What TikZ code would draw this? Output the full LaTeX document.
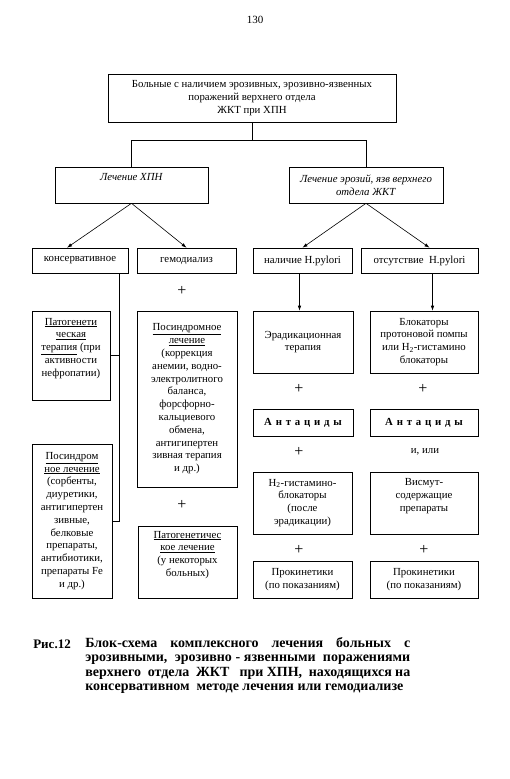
\documentclass[tikz,border=0pt]{standalone}
\usepackage{fontspec}
\setmainfont{Liberation Serif}
\newfontfamily\spaced[LetterSpace=35]{Liberation Serif}
\usetikzlibrary{arrows.meta}
\usetikzlibrary{positioning}
\tikzset{box/.style={draw, align=center, inner sep=1pt,
  font=\fontsize{10.8}{12.8}\selectfont},
  plus/.style={inner sep=0pt, font=\fontsize{16}{16}\selectfont},
  capt/.style={inner sep=0pt, align=left, font=\fontsize{14}{14.6}\selectfont\bfseries}}

\begin{document}
\begin{tikzpicture}[x=1pt, y=-1pt, line width=0.6pt, >={Latex[length=5pt,width=3.5pt]}]
      \useasboundingbox (0,0) rectangle (510,779);
      \node [inner sep=0pt, font=\fontsize{11}{13}\selectfont] (page) at (255,20) {130};

      \node [box, minimum width=288, minimum height=48] (top) at (252,98)
        {Больные с наличием эрозивных, эрозивно-язвенных\\ поражений верхнего отдела\\ ЖКТ при ХПН};
      \node [box, minimum width=153, minimum height=36] (lechHPN) at (131.5,185)
        {\textit{Лечение ХПН}\\ \strut};
      \node [box, minimum width=154, minimum height=36] (lechEroz) at (366,185)
        {\textit{Лечение эрозий, язв верхнего}\\ \textit{отдела ЖКТ}};

      \node [box, minimum width=96, minimum height=25] (kons) at (80,260.5) {консервативное};
      \node [box, minimum width=99, minimum height=25] (gemo) at (186.5,260.5) {гемодиализ};
      \node [box, minimum width=99, minimum height=25] (nal) at (302.5,260.5) {наличие H.pylori};
      \node [box, minimum width=117, minimum height=25] (ots) at (419.5,260.5) {отсутствие\ \ H.pylori};

      \node [box, minimum width=78, minimum height=89] (pat1) at (71,355.5)
        {\underline{Патогенети}\\ \underline{ческая}\\ \underline{терапия} (при\\ активности\\ нефропатии)\\ \strut};
      \node [box, minimum width=80, minimum height=154] (sind1) at (72,521)
        {\underline{Посиндром}\\ \underline{ное лечение}\\ (сорбенты,\\ диуретики,\\ антигипертен\\ зивные,\\
         белковые\\ препараты,\\ антибиотики,\\ препараты Fe\\ и др.)};

      \node [plus] (plus1) at (182,291) {+};
      \node [box, minimum width=100, minimum height=176] (sind2) at (187,399)
        {\underline{Посиндромное}\\ \underline{лечение}\\ (коррекция\\ анемии, водно-\\ электролитного\\ баланса,\\
         форсфорно-\\ кальциевого\\ обмена,\\ антигипертен\\ зивная терапия\\ и др.)};
      \node [plus] (plus2) at (182,505) {+};
      \node [box, minimum width=99, minimum height=72] (pat2) at (187.5,562)
        {\underline{Патогенетичес}\\ \underline{кое лечение}\\ (у некоторых\\ больных)\\ \strut};

      \node [box, minimum width=100, minimum height=62] (erad) at (303,342) {Эрадикационная\\ терапия};
      \node [plus] (plus3) at (299,389) {+};
      \node [box, minimum width=100, minimum height=27] (ant1) at (303,422.5) {\spaced\bfseries Антациды};
      \node [plus] (plus4) at (299,452) {+};
      \node [box, minimum width=99, minimum height=62] (htwo) at (302.5,503)
        {H\textsubscript{2}-гистамино-\\ блокаторы\\ (после\\ эрадикации)};
      \node [plus] (plus5) at (299,550) {+};
      \node [box, minimum width=99, minimum height=37] (prok1) at (302.5,579.5) {Прокинетики\\ (по показаниям)};

      \node [box, minimum width=108, minimum height=62] (blok) at (424,342)
        {Блокаторы\\ протоновой помпы\\ или H\textsubscript{2}-гистамино\\ блокаторы};
      \node [plus] (plus6) at (423,389) {+};
      \node [box, minimum width=108, minimum height=27] (ant2) at (424,422.5) {\spaced\bfseries Антациды};
      \node [box, draw=none] (ili) at (425,452) {и, или};
      \node [box, minimum width=108, minimum height=62] (vism) at (424,503)
        {Висмут-\\ содержащие\\ препараты\\ \strut};
      \node [plus] (plus7) at (424,550) {+};
      \node [box, minimum width=108, minimum height=37] (prok2) at (424,579.5) {Прокинетики\\ (по показаниям)};

      \draw (top.south) -- ++(0,18) coordinate (fork);
      \draw (lechHPN.north) |- (fork) -| (lechEroz.north);
      \draw [->] (lechHPN.south) -- ([xshift=-13pt]kons.north);
      \draw [->] (lechHPN.south) -- (gemo.north);
      \draw [->] (lechEroz.south) -- (nal.north);
      \draw [->] (lechEroz.south) -- ([xshift=10pt]ots.north);
      \draw [->] ([xshift=-3pt]nal.south) -- ([xshift=-3pt]nal.south |- erad.north);
      \draw [->] ([xshift=13pt]ots.south) -- ([xshift=13pt]ots.south |- blok.north);
      \coordinate (trunk) at ([xshift=-9pt]kons.south east);
      \draw (trunk) |- (sind1.east);
      \draw (pat1.east) -- (pat1.east -| trunk);

      \node [capt, anchor=north west, font=\fontsize{13}{14.6}\selectfont\bfseries] (fig) at (33,637.5) {\strut Рис.12};
      \node [capt, anchor=north west] (caption) at (85,636.5)
        {\makebox[325pt][s]{\strut Блок-схема\ \ комплексного\ \ лечения\ \ больных\ \ с}\\
         \makebox[325pt][s]{эрозивными,\ \ эрозивно - язвенными\ \ поражениями}\\
         \makebox[325pt][s]{верхнего\ \ отдела\ \ ЖКТ\ \ \ при ХПН,\ \ находящихся на}\\
         консервативном\ \ методе лечения или гемодиализе};
    \end{tikzpicture}
\end{document}
